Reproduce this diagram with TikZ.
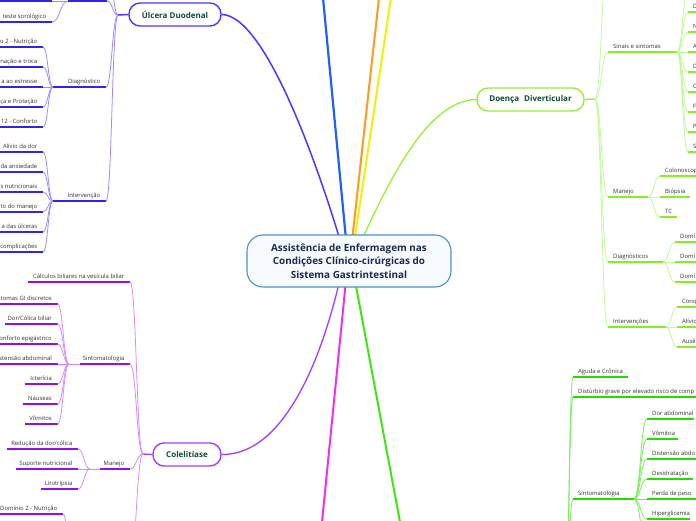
\documentclass[tikz,border=0pt]{standalone}
\usepackage{fontspec}
\setmainfont{Open Sans}
\usetikzlibrary{calc}
\definecolor{vio}{HTML}{5533FF}
\definecolor{vioD}{HTML}{3322EE}
\definecolor{vioL}{HTML}{9A8CFF}
\definecolor{blu}{HTML}{1F5FFF}
\definecolor{ora}{HTML}{FF9A1A}
\definecolor{yel}{HTML}{F2F200}
\definecolor{lgr}{HTML}{99EE33}
\definecolor{lgrD}{HTML}{88EE22}
\definecolor{lgrL}{HTML}{C2F79A}
\definecolor{pur}{HTML}{A23CFF}
\definecolor{purD}{HTML}{9010EE}
\definecolor{purL}{HTML}{D08CFF}
\definecolor{mag}{HTML}{F02EF0}
\definecolor{grn}{HTML}{3EE612}
\definecolor{grnD}{HTML}{22DD00}
\definecolor{grnL}{HTML}{77EE55}
\definecolor{cbor}{HTML}{4A90D0}
\definecolor{cfill}{HTML}{F7FBFF}
\definecolor{ctxt}{HTML}{1B2A4E}
\definecolor{ntxt}{HTML}{0E4A3A}
\tikzset{
 mm/.style={to path={.. controls ($(\tikztostart)!0.5!(\tikztostart -| \tikztotarget)$) and ($(\tikztotarget)!0.5!(\tikztotarget -| \tikztostart)$) .. (\tikztotarget)}},
 lbl/.style={font=\fontsize{5.9}{6.5}\selectfont, text=black!80, inner sep=0pt},
 topic/.style={draw, line width=1.4pt, rounded corners=11pt, fill=white, font=\bfseries\fontsize{8}{9}\selectfont, text=ntxt, inner sep=0pt, minimum height=23pt},
 ul/.style={line width=1.3pt},
 cv/.style={line width=0.8pt},
}
\newcommand\LL[6]{%
  \coordinate (#1-l) at (#2,#4);
  \coordinate (#1-r) at (#3,#4);
  \draw[#6, ul] (#1-l) -- (#1-r);
  \node[lbl, anchor=base east] (#1) at ($(#1-r)+(-5.5,-3.5)$) {#5};}
\newcommand\RL[6]{%
  \coordinate (#1-l) at (#2,#4);
  \coordinate (#1-r) at (#3,#4);
  \draw[#6, ul] (#1-l) -- (#1-r);
  \node[lbl, anchor=base west] (#1) at ($(#1-l)+(5,-3.5)$) {#5};}
\begin{document}
\begin{tikzpicture}[x=1pt,y=-1pt]
\useasboundingbox (0,0) rectangle (696,520);
\clip (0,0) rectangle (696,520);
% ---------- topic nodes
\node[topic, draw=vio, minimum width=92pt] (ulc) at (175,14.5) {Úlcera Duodenal};
\node[topic, draw=pur, minimum width=68pt] (cole) at (187,454.5) {Colelitíase};
\node[topic, draw=lgr, minimum width=107pt] (doe) at (530.5,99.5) {Doença\hspace{3pt} Diverticular};
% ---------- main branches
\coordinate (mUl) at (343,250);
\coordinate (mBlT) at (323,-2); \coordinate (mBlB) at (347,250);
\coordinate (mOrT) at (379,-2); \coordinate (mOrB) at (351,250);
\coordinate (mYeT) at (391,-2); \coordinate (mYeB) at (353,250);
\coordinate (mDo) at (357,250);
\coordinate (mCo) at (342,270);
\coordinate (mMaT) at (347,270); \coordinate (mMaB) at (322,522);
\coordinate (mGrT) at (353,270); \coordinate (mGrB) at (400,522);
\draw[vio, line width=1.5pt] (ulc.east) .. controls (265,15) and (318,165) .. (mUl);
\draw[blu, line width=2.2pt] (mBlB) -- (mBlT);
\draw[ora, line width=2pt] (mOrB) -- (mOrT);
\draw[yel, line width=2pt] (mYeB) -- (mYeT);
\draw[lgr, line width=1.3pt] (mDo) .. controls (385,190) and (425,100) .. (doe.west);
\draw[pur, line width=1.3pt] (mCo) .. controls (327,340) and (290,455) .. (cole.east);
\draw[mag, line width=2pt] (mMaT) -- (mMaB);
\draw[grn, line width=2pt] (mGrT) -- (mGrB);
% ---------- central node
\node[draw=cbor, line width=1.1pt, fill=cfill, rounded corners=16pt, minimum width=204pt, minimum height=52pt, align=center, text=ctxt, font=\bfseries\fontsize{9.9}{13.5}\selectfont] (ctr) at (349,261) {Assistência de Enfermagem nas\\Condições Clínico-cirúrgicas do\\Sistema Gastrintestinal};
% ---------- Úlcera Duodenal subtree
\coordinate (uJ) at (118,15);
\draw[vio, line width=1.5pt] (ulc.west) -- (uJ);
\coordinate (uP-l) at (68,1); \coordinate (uP-r) at (107,1);
\coordinate (uUp) at (107,-40);
\draw[vioD, ul] (uP-l) -- (uP-r);
\draw[vioL, cv] (uJ) to[mm] (uP-r);
\draw[vioL, cv] (uJ) to[mm] (uUp);
\coordinate (uS1-l) at (-2,1); \coordinate (uS1-r) at (52,1);
\draw[vioD, ul] (uS1-l) -- (uS1-r);
\draw[vioL, cv] (uP-l) -- (uS1-r);
\LL{uTes}{-2}{52}{22}{teste sorológico}{vioD}
\draw[vioL, cv] (uP-l) to[mm] (uTes-r);
\LL{uDia}{53}{106}{87}{Diagnóstico}{vioD}
\draw[vioL, cv] (uJ) to[mm] (uDia-r);
\LL{uD1}{-2}{43}{47}{o 2 - Nutrição}{vioD}
\LL{uD2}{-2}{43}{67}{nação e troca}{vioD}
\LL{uD3}{-2}{43}{87}{a ao estresse}{vioD}
\LL{uD4}{-2}{43}{107}{ça e Proteção}{vioD}
\LL{uD5}{-2}{43}{127}{12 - Conforto}{vioD}
\foreach \c in {uD1,uD2,uD3,uD4,uD5} \draw[vioL, cv] (uDia-l) to[mm] (\c-r);
\LL{uInt}{53}{106}{201}{Intervenção}{vioD}
\draw[vioL, cv] (uJ) to[mm] (uInt-r);
\LL{uI1}{-2}{43}{152}{Alívio da dor}{vioD}
\LL{uI2}{-2}{43}{172}{da ansiedade}{vioD}
\LL{uI3}{-2}{43}{192}{s nutricionais}{vioD}
\LL{uI4}{-2}{43}{212}{to do manejo}{vioD}
\LL{uI5}{-2}{43}{232}{a das úlceras}{vioD}
\LL{uI6}{-2}{43}{252}{complicações}{vioD}
\foreach \c in {uI1,uI2,uI3,uI4,uI5,uI6} \draw[vioL, cv] (uInt-l) to[mm] (\c-r);
% ---------- Colelitíase subtree
\coordinate (cJ) at (143,454);
\draw[pur, line width=1.3pt] (cole.west) -- (cJ);
\LL{cCal}{28}{130}{282}{Cálculos biliares na vesícula biliar}{purD}
\LL{cSin}{80}{130}{364}{Sintomatologia}{purD}
\LL{cMan}{100}{130}{469}{Manejo}{purD}
\coordinate (cMore) at (130,560);
\foreach \c in {cCal-r,cSin-r,cMan-r,cMore} \draw[purL, cv] (cJ) to[mm] (\c);
\coordinate (cSJ) at (69,364);
\draw[purL, cv] (cSJ) -- (cSin-l);
\LL{cS1}{-2}{57.5}{304}{tomas GI discretos}{purD}
\LL{cS2}{5}{57.5}{324}{Dor/Cólica biliar}{purD}
\LL{cS3}{-2}{57.5}{344}{onforto epigástrico}{purD}
\LL{cS4}{-2}{57.5}{364}{stensão abdominal}{purD}
\LL{cS5}{25}{57.5}{384}{Icterícia}{purD}
\LL{cS6}{23}{57.5}{404}{Náuseas}{purD}
\LL{cS7}{25}{57.5}{424}{Vômitos}{purD}
\foreach \c in {cS1,cS2,cS3,cS4,cS5,cS6,cS7} \draw[purL, cv] (cSJ) to[mm] (\c-r);
\coordinate (cMJ) at (90,469);
\draw[purL, cv] (cMJ) -- (cMan-l);
\LL{cM1}{7}{78}{449}{Redução da dor/cólica}{purD}
\LL{cM2}{16}{78}{469}{Suporte nutricional}{purD}
\LL{cM3}{41}{78}{489}{Litotripsia}{purD}
\foreach \c in {cM1,cM2,cM3} \draw[purL, cv] (cMJ) to[mm] (\c-r);
\LL{cD1}{-2}{63}{514}{Domínio 2 - Nutrição}{purD}
\coordinate (cDJ) at (72,560);
\draw[purL, cv] (cDJ) to[mm] (cD1-r);
% ---------- Doença Diverticular subtree
\coordinate (dJ) at (595,99);
\draw[lgr, line width=1.3pt] (doe.east) -- (dJ);
\coordinate (dTop) at (608,-40);
\RL{dSin}{608}{677}{52}{Sinais e sintomas}{lgrD}
\RL{dMan}{608}{648}{197}{Manejo}{lgrD}
\RL{dDia}{608}{663}{262}{Diagnósticos}{lgrD}
\RL{dInt}{608}{666}{327}{Intervenções}{lgrD}
\foreach \c in {dTop,dSin-l,dMan-l,dDia-l,dInt-l} \draw[lgrL, cv] (dJ) to[mm] (\c);
\coordinate (dS0) at (688,-8);
\draw[lgrL, cv] (dSin-r) to[mm] (dS0);
\RL{dS1}{688}{700}{12}{D}{lgrD}
\RL{dS2}{688}{700}{32}{N}{lgrD}
\RL{dS3}{688}{700}{52}{A}{lgrD}
\RL{dS4}{688}{700}{72}{D}{lgrD}
\RL{dS5}{688}{700}{92}{C}{lgrD}
\RL{dS6}{688}{700}{112}{F}{lgrD}
\RL{dS7}{688}{700}{132}{P}{lgrD}
\RL{dS8}{688}{700}{152}{S}{lgrD}
\foreach \c in {dS1,dS2,dS3,dS4,dS5,dS6,dS7,dS8} \draw[lgrL, cv] (dSin-r) to[mm] (\c-l);
\RL{dM1}{660}{700}{176}{Colonoscop}{lgrD}
\RL{dM2}{660}{690}{197}{Biópsia}{lgrD}
\RL{dM3}{660}{677}{217}{TC}{lgrD}
\foreach \c in {dM1,dM2,dM3} \draw[lgrL, cv] (dMan-r) to[mm] (\c-l);
\RL{dD1}{675}{700}{242}{Domí}{lgrD}
\RL{dD2}{675}{700}{262}{Domí}{lgrD}
\RL{dD3}{675}{700}{282}{Domí}{lgrD}
\foreach \c in {dD1,dD2,dD3} \draw[lgrL, cv] (dDia-r) to[mm] (\c-l);
\RL{dI1}{677}{700}{307}{Conq}{lgrD}
\RL{dI2}{677}{700}{327}{Alívio}{lgrD}
\RL{dI3}{677}{700}{347}{Ausê}{lgrD}
\foreach \c in {dI1,dI2,dI3} \draw[lgrL, cv] (dInt-r) to[mm] (\c-l);
% ---------- green subtree (bottom right)
\coordinate (gJ) at (565,600);
\RL{gAg}{573}{628}{377}{Aguda e Crônica}{grnD}
\RL{gDi}{573}{700}{397}{Distúrbio grave por elevado risco de comp}{grnD}
\RL{gSi}{573}{634}{499}{Sintomatologia}{grnD}
\foreach \c in {gAg,gDi,gSi} \draw[grnL, cv] (gJ) to[mm] (\c-l);
\RL{gS1}{647}{694}{419}{Dor abdominal}{grnD}
\RL{gS2}{647}{678}{439}{Vômitoa}{grnD}
\RL{gS3}{647}{700}{459}{Distensão abdo}{grnD}
\RL{gS4}{647}{693}{479}{Desidratação}{grnD}
\RL{gS5}{647}{700}{499}{Perda de peso}{grnD}
\RL{gS6}{647}{690}{519}{Hiperglicemia}{grnD}
\coordinate (gS7) at (647,545);
\foreach \c in {gS1-l,gS2-l,gS3-l,gS4-l,gS5-l,gS6-l,gS7} \draw[grnL, cv] (gSi-r) to[mm] (\c);
\end{tikzpicture}
\end{document}
